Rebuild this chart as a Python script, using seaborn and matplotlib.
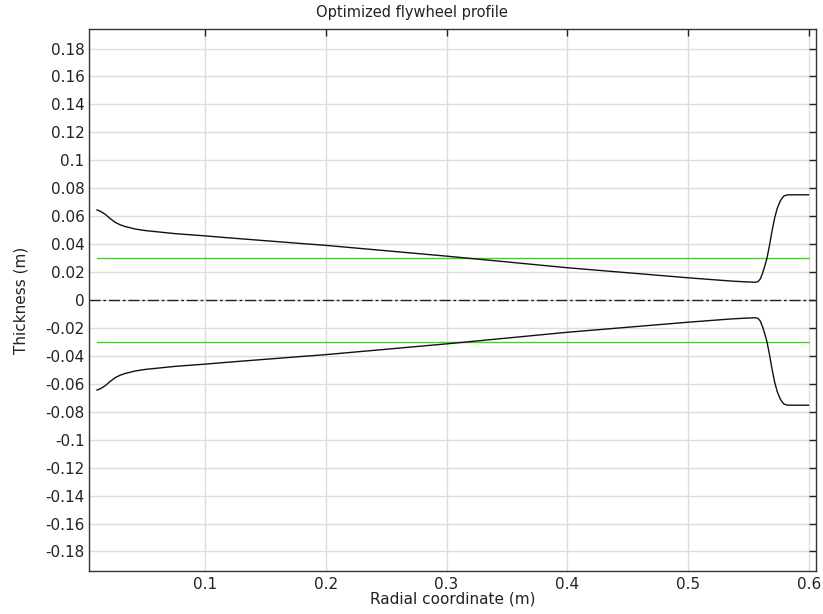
import seaborn as sns
import matplotlib.pyplot as plt
import matplotlib.ticker as mticker
import pandas as pd
import numpy as np

# profile data (half thickness, the lower edge mirrors it)
radius = [0.0102, 0.0130, 0.0171, 0.0213, 0.0254, 0.0296, 0.0337, 0.0420, 0.0503,
          0.0751, 0.1000, 0.1166, 0.1787, 0.2000, 0.3000, 0.4000, 0.5000, 0.5350,
          0.5474, 0.5530, 0.5560, 0.5580, 0.5598, 0.5618, 0.5635, 0.5654, 0.5673,
          0.5695, 0.5717, 0.5739, 0.5764, 0.5791, 0.5819, 0.5850, 0.6000]
half_thickness = [0.0645, 0.0636, 0.0614, 0.0583, 0.0556, 0.0538, 0.0526, 0.0508, 0.0497,
                  0.0475, 0.0459, 0.0447, 0.0405, 0.0391, 0.0314, 0.0231, 0.0159, 0.0136,
                  0.0130, 0.0128, 0.0127, 0.0132, 0.0150, 0.0193, 0.0241, 0.0300, 0.0383,
                  0.0491, 0.0586, 0.0657, 0.0709, 0.0743, 0.0752, 0.0753, 0.0753]

# initial (constant) thickness
init_radius = [0.0102, 0.6]
init_half = [0.03, 0.03]

df = pd.DataFrame({"r": radius, "upper": half_thickness,
                   "lower": [-h for h in half_thickness]})
df0 = pd.DataFrame({"r": init_radius, "upper": init_half,
                    "lower": [-h for h in init_half]})

sns.set_style("white")
plt.rcParams["font.family"] = ["DejaVu Sans"]
plt.rcParams["axes.unicode_minus"] = False

fig = plt.figure(figsize=(8.23, 6.14), dpi=100)
ax = fig.add_axes([0.1085, 0.070, 0.883, 0.8828])

green = "#58c244"
for col in ["upper", "lower"]:
    sns.lineplot(data=df0, x="r", y=col, ax=ax, color=green, linewidth=1.0,
                 estimator=None, sort=False)
    sns.lineplot(data=df, x="r", y=col, ax=ax, color="#111111", linewidth=1.0,
                 estimator=None, sort=False)

ax.axhline(0, color="#222222", linewidth=1.0, linestyle=(0, (8, 2, 2, 2)))

ax.set_xlim(0.004, 0.606)
ax.set_ylim(-0.194, 0.194)
ax.xaxis.set_major_locator(mticker.MultipleLocator(0.1))
ax.yaxis.set_major_locator(mticker.MultipleLocator(0.02))
fmt = mticker.FuncFormatter(lambda v, p: "%g" % round(v, 4))
ax.xaxis.set_major_formatter(fmt)
ax.yaxis.set_major_formatter(fmt)

ax.grid(True, color="#dddddd", linewidth=1.0)
ax.set_axisbelow(True)
ax.tick_params(direction="in", length=5, width=1, top=True, right=True,
               labelsize=11, colors="#222222", labelcolor="#222222")
ax.tick_params(axis="x", pad=4)
for s in ax.spines.values():
    s.set_color("#333333")
    s.set_linewidth(1.0)

# title is centred on the figure, not the axes
fig.text(0.5, 1 - 12 / 614, "Optimized flywheel profile", fontsize=10.5,
         ha="center", va="center", color="#222222")
ax.set_xlabel("Radial coordinate (m)", fontsize=11, labelpad=0, color="#222222")
ax.set_ylabel("Thickness (m)", fontsize=11, labelpad=12, color="#222222")

fig.savefig("out.png", dpi=100)
